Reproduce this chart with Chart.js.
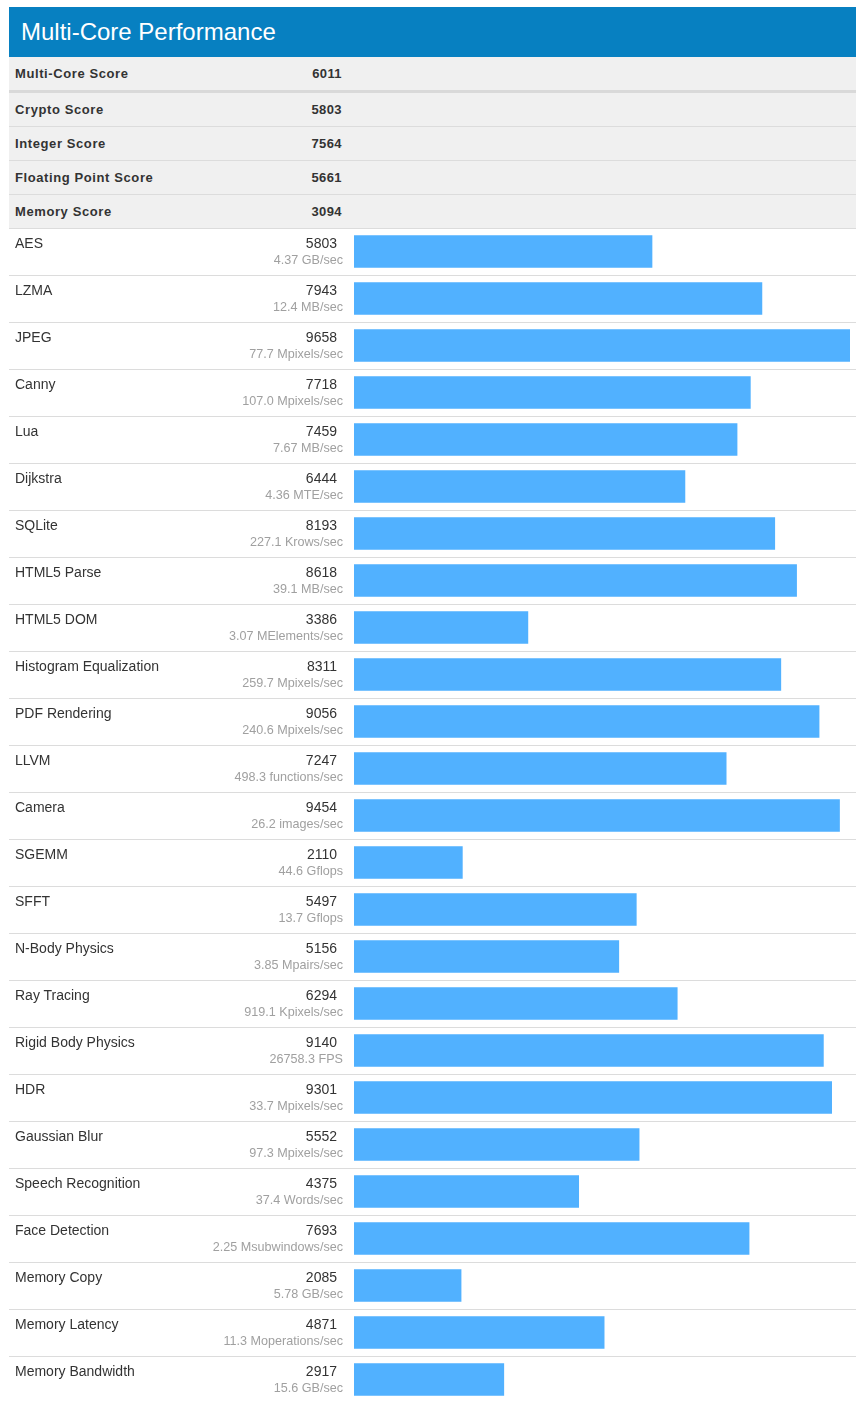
<!DOCTYPE html>
<html>
<head>
<meta charset="utf-8">
<title>Multi-Core Performance</title>
<script src="https://cdn.jsdelivr.net/npm/chart.js@4"></script>
<style>
  body { margin: 0; background: #fff; font-family: "Liberation Sans", Arial, sans-serif; color: #333; }
  #wrap { position: absolute; left: 9px; top: 7px; width: 847px; }
  .head { height: 50px; line-height: 50px; background: #0780c1; color: #fff; font-size: 24px; padding-left: 12px; }
  .sum { height: 33px; line-height: 33px; background: #f0f0f0; border-bottom: 1px solid #dcdcdc;
         font-weight: bold; font-size: 13px; letter-spacing: 0.6px; position: relative; }
  .sum.first { border-bottom: 3px solid #d9d9d9; }
  .sum .lbl { position: absolute; left: 6px; }
  .sum .val { position: absolute; left: 0; width: 333px; text-align: right; letter-spacing: 0.4px; }
  #bench { position: relative; }
  .row { height: 46px; border-bottom: 1px solid #dcdcdc; position: relative; }
  .row.last { border-bottom: none; }
  .row .name { position: absolute; left: 6px; top: 6px; font-size: 14px; line-height: 16px; }
  .row .score { position: absolute; left: 0; width: 328px; top: 6px; text-align: right; font-size: 14px; line-height: 16px; }
  .row .rate { position: absolute; left: 0; width: 334px; top: 24px; text-align: right; font-size: 12.6px; line-height: 14px; color: #a0a0a0; }
  #chartBox { position: absolute; left: 345px; top: -1px; width: 496px; height: 1175px; }
</style>
</head>
<body>
<div id="wrap">
  <div class="head">Multi-Core Performance</div>
  <div id="summary"></div>
  <div id="bench">
    <div id="chartBox"><canvas id="myChart"></canvas></div>
  </div>
</div>
<script>
// Summary scores
let summaryLabels = ["Multi-Core Score", "Crypto Score", "Integer Score", "Floating Point Score", "Memory Score"];
let summaryScores = [6011, 5803, 7564, 5661, 3094];

// Workloads
let names = ["AES", "LZMA", "JPEG", "Canny", "Lua", "Dijkstra", "SQLite", "HTML5 Parse", "HTML5 DOM",
    "Histogram Equalization", "PDF Rendering", "LLVM", "Camera", "SGEMM", "SFFT", "N-Body Physics",
    "Ray Tracing", "Rigid Body Physics", "HDR", "Gaussian Blur", "Speech Recognition", "Face Detection",
    "Memory Copy", "Memory Latency", "Memory Bandwidth"];
let scores = [5803, 7943, 9658, 7718, 7459, 6444, 8193, 8618, 3386,
    8311, 9056, 7247, 9454, 2110, 5497, 5156,
    6294, 9140, 9301, 5552, 4375, 7693,
    2085, 4871, 2917];
let rates = ["4.37 GB/sec", "12.4 MB/sec", "77.7 Mpixels/sec", "107.0 Mpixels/sec", "7.67 MB/sec",
    "4.36 MTE/sec", "227.1 Krows/sec", "39.1 MB/sec", "3.07 MElements/sec",
    "259.7 Mpixels/sec", "240.6 Mpixels/sec", "498.3 functions/sec", "26.2 images/sec",
    "44.6 Gflops", "13.7 Gflops", "3.85 Mpairs/sec",
    "919.1 Kpixels/sec", "26758.3 FPS", "33.7 Mpixels/sec", "97.3 Mpixels/sec", "37.4 Words/sec",
    "2.25 Msubwindows/sec", "5.78 GB/sec", "11.3 Moperations/sec", "15.6 GB/sec"];

// Build the summary rows
let summary = document.getElementById('summary');
summaryLabels.forEach(function(label, i) {
    let div = document.createElement('div');
    div.className = i === 0 ? 'sum first' : 'sum';
    div.innerHTML = '<span class="lbl"></span><span class="val"></span>';
    div.querySelector('.lbl').textContent = label;
    div.querySelector('.val').textContent = summaryScores[i];
    summary.appendChild(div);
});

// Build the text part of each workload row
let bench = document.getElementById('bench');
names.forEach(function(name, i) {
    let div = document.createElement('div');
    div.className = i === names.length - 1 ? 'row last' : 'row';
    div.innerHTML = '<div class="name"></div><div class="score"></div><div class="rate"></div>';
    div.querySelector('.name').textContent = name;
    div.querySelector('.score').textContent = scores[i];
    div.querySelector('.rate').textContent = rates[i];
    bench.appendChild(div);
});

// Bars
const ctx = document.getElementById('myChart').getContext('2d');
const myChart = new Chart(ctx, {
    type: 'bar',
    data: {
        labels: names,
        datasets: [{
            data: scores,
            backgroundColor: '#51b1ff',
            borderWidth: 0,
            barThickness: 32
        }]
    },
    options: {
        indexAxis: 'y',
        responsive: true,
        maintainAspectRatio: false,
        animation: false,
        layout: { padding: 0 },
        plugins: {
            legend: { display: false },
            tooltip: { enabled: false }
        },
        scales: {
            x: { display: false, min: 0, max: Math.max(...scores) },
            y: { display: false }
        }
    }
});
</script>
</body>
</html>
